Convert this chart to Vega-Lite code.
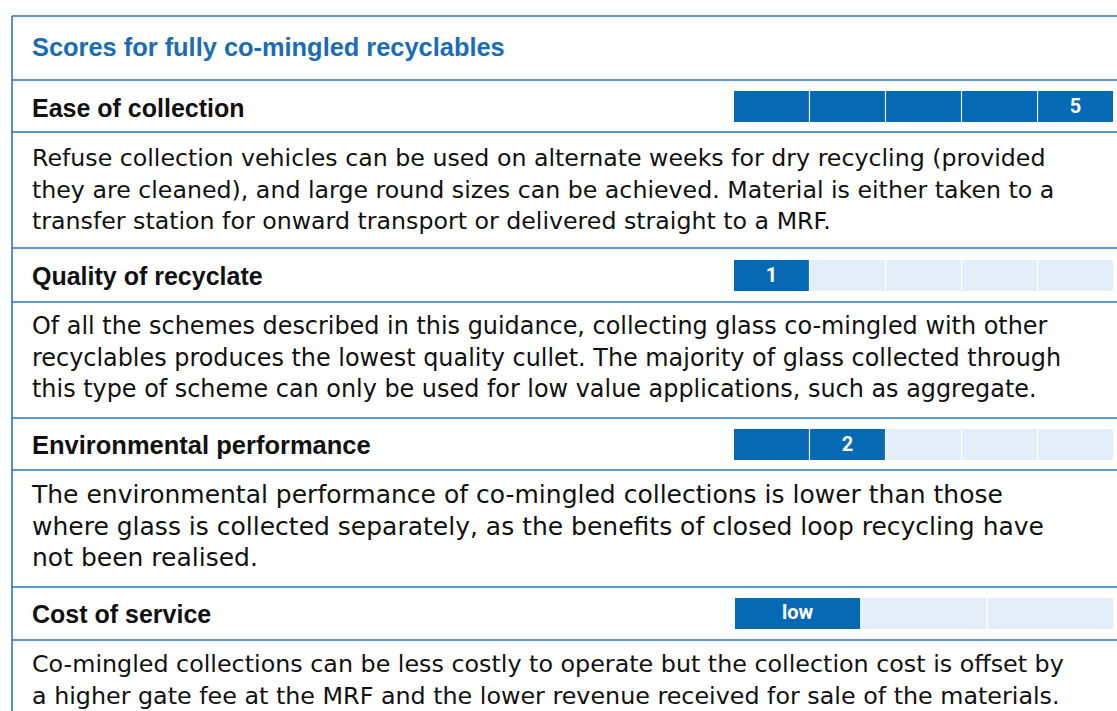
{
  "$schema": "https://vega.github.io/schema/vega-lite/v6.json",
  "background": "white",
  "padding": {"left": 11, "top": 15, "right": 0, "bottom": 0},
  "config": {"view": {"stroke": null}, "concat": {"spacing": 0}, "font": "DejaVu Sans"},
  "spacing": 0,
  "bounds": "flush",
  "datasets": {
    "criteria": [
      {"criterion": "Ease of collection", "note": "Refuse collection vehicles can be used on alternate weeks for dry recycling (provided\nthey are cleaned), and large round sizes can be achieved. Material is either taken to a\ntransfer station for onward transport or delivered straight to a MRF."},
      {"criterion": "Quality of recyclate", "note": "Of all the schemes described in this guidance, collecting glass co-mingled with other\nrecyclables produces the lowest quality cullet. The majority of glass collected through\nthis type of scheme can only be used for low value applications, such as aggregate."},
      {"criterion": "Environmental performance", "note": "The environmental performance of co-mingled collections is lower than those\nwhere glass is collected separately, as the benefits of closed loop recycling have\nnot been realised."},
      {"criterion": "Cost of service", "note": "Co-mingled collections can be less costly to operate but the collection cost is offset by\na higher gate fee at the MRF and the lower revenue received for sale of the materials."}
    ],
    "scores": [
      {"criterion": "Ease of collection", "segment": 1, "state": "filled", "label": ""},
      {"criterion": "Ease of collection", "segment": 2, "state": "filled", "label": ""},
      {"criterion": "Ease of collection", "segment": 3, "state": "filled", "label": ""},
      {"criterion": "Ease of collection", "segment": 4, "state": "filled", "label": ""},
      {"criterion": "Ease of collection", "segment": 5, "state": "filled", "label": "5"},
      {"criterion": "Quality of recyclate", "segment": 1, "state": "filled", "label": "1"},
      {"criterion": "Quality of recyclate", "segment": 2, "state": "empty", "label": ""},
      {"criterion": "Quality of recyclate", "segment": 3, "state": "empty", "label": ""},
      {"criterion": "Quality of recyclate", "segment": 4, "state": "empty", "label": ""},
      {"criterion": "Quality of recyclate", "segment": 5, "state": "empty", "label": ""},
      {"criterion": "Environmental performance", "segment": 1, "state": "filled", "label": ""},
      {"criterion": "Environmental performance", "segment": 2, "state": "filled", "label": "2"},
      {"criterion": "Environmental performance", "segment": 3, "state": "empty", "label": ""},
      {"criterion": "Environmental performance", "segment": 4, "state": "empty", "label": ""},
      {"criterion": "Environmental performance", "segment": 5, "state": "empty", "label": ""},
      {"criterion": "Cost of service", "segment": 1, "state": "filled", "label": "low"},
      {"criterion": "Cost of service", "segment": 2, "state": "empty", "label": ""},
      {"criterion": "Cost of service", "segment": 3, "state": "empty", "label": ""}
    ]
  },
  "vconcat": [
    {
      "width": 1106, "height": 64,
      "layer": [
        {"data": {"values": [{"edge": "top"}]}, "mark": {"type": "rule", "color": "#2a74b9", "strokeWidth": 1.6}, "encoding": {"x": {"value": 0}, "x2": {"value": "width"}, "y": {"value": 0}}},
        {"data": {"values": [{"edge": "left"}]}, "mark": {"type": "rule", "color": "#2a74b9", "strokeWidth": 1.6}, "encoding": {"x": {"value": 0}, "y": {"value": 0}, "y2": {"value": "height"}}},
        {"data": {"values": [{"title": "Scores for fully co-mingled recyclables"}]}, "mark": {"type": "text", "align": "left", "baseline": "alphabetic", "fontWeight": "bold", "fontSize": 25.4, "font": "Liberation Sans", "color": "#1a6db5"}, "encoding": {"x": {"value": 20}, "y": {"value": 40}, "text": {"field": "title"}}}
      ]
    },
    {
      "width": 1106, "height": 52,
      "layer": [
        {"data": {"values": [{"edge": "top"}]}, "mark": {"type": "rule", "color": "#2a74b9", "strokeWidth": 1.6}, "encoding": {"x": {"value": 0}, "x2": {"value": "width"}, "y": {"value": 0}}},
        {"data": {"values": [{"edge": "left"}]}, "mark": {"type": "rule", "color": "#2a74b9", "strokeWidth": 1.6}, "encoding": {"x": {"value": 0}, "y": {"value": 0}, "y2": {"value": "height"}}},
        {"data": {"name": "scores"}, "transform": [{"filter": "datum.criterion === 'Ease of collection'"}], "mark": {"type": "rect"}, "encoding": {"x": {"field": "segment", "type": "ordinal", "scale": {"range": [722, 1101], "paddingInner": 0.015, "paddingOuter": 0}, "axis": null}, "y": {"value": 11}, "y2": {"value": 42}, "color": {"field": "state", "type": "nominal", "scale": {"domain": ["filled", "empty"], "range": ["#0569b3", "#e4eef8"]}, "legend": null}}},
        {"data": {"name": "scores"}, "transform": [{"filter": "datum.criterion === 'Ease of collection'"}], "mark": {"type": "text", "align": "center", "baseline": "middle", "fontWeight": "bold", "fontSize": 20, "font": "Roboto", "color": "white"}, "encoding": {"x": {"field": "segment", "type": "ordinal"}, "y": {"value": 27}, "text": {"field": "label"}}},
        {"data": {"name": "criteria"}, "transform": [{"filter": "datum.criterion === 'Ease of collection'"}], "mark": {"type": "text", "align": "left", "baseline": "alphabetic", "fontWeight": "bold", "fontSize": 25, "font": "Liberation Sans", "color": "#111111"}, "encoding": {"x": {"value": 20}, "y": {"value": 37}, "text": {"field": "criterion"}}}
      ]
    },
    {
      "width": 1106, "height": 116,
      "layer": [
        {"data": {"values": [{"edge": "top"}]}, "mark": {"type": "rule", "color": "#2a74b9", "strokeWidth": 1.6}, "encoding": {"x": {"value": 0}, "x2": {"value": "width"}, "y": {"value": 0}}},
        {"data": {"values": [{"edge": "left"}]}, "mark": {"type": "rule", "color": "#2a74b9", "strokeWidth": 1.6}, "encoding": {"x": {"value": 0}, "y": {"value": 0}, "y2": {"value": "height"}}},
        {"data": {"name": "criteria"}, "transform": [{"filter": "datum.criterion === 'Ease of collection'"}], "mark": {"type": "text", "align": "left", "baseline": "alphabetic", "fontSize": 23.7, "lineHeight": 31.5, "lineBreak": "\n", "color": "#111111"}, "encoding": {"x": {"value": 20}, "y": {"value": 34}, "text": {"field": "note"}}}
      ]
    },
    {
      "width": 1106, "height": 54,
      "layer": [
        {"data": {"values": [{"edge": "top"}]}, "mark": {"type": "rule", "color": "#2a74b9", "strokeWidth": 1.6}, "encoding": {"x": {"value": 0}, "x2": {"value": "width"}, "y": {"value": 0}}},
        {"data": {"values": [{"edge": "left"}]}, "mark": {"type": "rule", "color": "#2a74b9", "strokeWidth": 1.6}, "encoding": {"x": {"value": 0}, "y": {"value": 0}, "y2": {"value": "height"}}},
        {"data": {"name": "scores"}, "transform": [{"filter": "datum.criterion === 'Quality of recyclate'"}], "mark": {"type": "rect"}, "encoding": {"x": {"field": "segment", "type": "ordinal", "scale": {"range": [722, 1101], "paddingInner": 0.015, "paddingOuter": 0}, "axis": null}, "y": {"value": 12}, "y2": {"value": 43}, "color": {"field": "state", "type": "nominal", "scale": {"domain": ["filled", "empty"], "range": ["#0569b3", "#e4eef8"]}, "legend": null}}},
        {"data": {"name": "scores"}, "transform": [{"filter": "datum.criterion === 'Quality of recyclate'"}], "mark": {"type": "text", "align": "center", "baseline": "middle", "fontWeight": "bold", "fontSize": 20, "font": "Roboto", "color": "white"}, "encoding": {"x": {"field": "segment", "type": "ordinal"}, "y": {"value": 28}, "text": {"field": "label"}}},
        {"data": {"name": "criteria"}, "transform": [{"filter": "datum.criterion === 'Quality of recyclate'"}], "mark": {"type": "text", "align": "left", "baseline": "alphabetic", "fontWeight": "bold", "fontSize": 25, "font": "Liberation Sans", "color": "#111111"}, "encoding": {"x": {"value": 20}, "y": {"value": 37}, "text": {"field": "criterion"}}}
      ]
    },
    {
      "width": 1106, "height": 116,
      "layer": [
        {"data": {"values": [{"edge": "top"}]}, "mark": {"type": "rule", "color": "#2a74b9", "strokeWidth": 1.6}, "encoding": {"x": {"value": 0}, "x2": {"value": "width"}, "y": {"value": 0}}},
        {"data": {"values": [{"edge": "left"}]}, "mark": {"type": "rule", "color": "#2a74b9", "strokeWidth": 1.6}, "encoding": {"x": {"value": 0}, "y": {"value": 0}, "y2": {"value": "height"}}},
        {"data": {"name": "criteria"}, "transform": [{"filter": "datum.criterion === 'Quality of recyclate'"}], "mark": {"type": "text", "align": "left", "baseline": "alphabetic", "fontSize": 23.9, "lineHeight": 31.5, "lineBreak": "\n", "color": "#111111"}, "encoding": {"x": {"value": 20}, "y": {"value": 32}, "text": {"field": "note"}}}
      ]
    },
    {
      "width": 1106, "height": 52,
      "layer": [
        {"data": {"values": [{"edge": "top"}]}, "mark": {"type": "rule", "color": "#2a74b9", "strokeWidth": 1.6}, "encoding": {"x": {"value": 0}, "x2": {"value": "width"}, "y": {"value": 0}}},
        {"data": {"values": [{"edge": "left"}]}, "mark": {"type": "rule", "color": "#2a74b9", "strokeWidth": 1.6}, "encoding": {"x": {"value": 0}, "y": {"value": 0}, "y2": {"value": "height"}}},
        {"data": {"name": "scores"}, "transform": [{"filter": "datum.criterion === 'Environmental performance'"}], "mark": {"type": "rect"}, "encoding": {"x": {"field": "segment", "type": "ordinal", "scale": {"range": [722, 1101], "paddingInner": 0.015, "paddingOuter": 0}, "axis": null}, "y": {"value": 11}, "y2": {"value": 42}, "color": {"field": "state", "type": "nominal", "scale": {"domain": ["filled", "empty"], "range": ["#0569b3", "#e4eef8"]}, "legend": null}}},
        {"data": {"name": "scores"}, "transform": [{"filter": "datum.criterion === 'Environmental performance'"}], "mark": {"type": "text", "align": "center", "baseline": "middle", "fontWeight": "bold", "fontSize": 20, "font": "Roboto", "color": "white"}, "encoding": {"x": {"field": "segment", "type": "ordinal"}, "y": {"value": 27}, "text": {"field": "label"}}},
        {"data": {"name": "criteria"}, "transform": [{"filter": "datum.criterion === 'Environmental performance'"}], "mark": {"type": "text", "align": "left", "baseline": "alphabetic", "fontWeight": "bold", "fontSize": 25.5, "font": "Liberation Sans", "color": "#111111"}, "encoding": {"x": {"value": 20}, "y": {"value": 36}, "text": {"field": "criterion"}}}
      ]
    },
    {
      "width": 1106, "height": 117,
      "layer": [
        {"data": {"values": [{"edge": "top"}]}, "mark": {"type": "rule", "color": "#2a74b9", "strokeWidth": 1.6}, "encoding": {"x": {"value": 0}, "x2": {"value": "width"}, "y": {"value": 0}}},
        {"data": {"values": [{"edge": "left"}]}, "mark": {"type": "rule", "color": "#2a74b9", "strokeWidth": 1.6}, "encoding": {"x": {"value": 0}, "y": {"value": 0}, "y2": {"value": "height"}}},
        {"data": {"name": "criteria"}, "transform": [{"filter": "datum.criterion === 'Environmental performance'"}], "mark": {"type": "text", "align": "left", "baseline": "alphabetic", "fontSize": 25, "lineHeight": 31.5, "lineBreak": "\n", "color": "#111111"}, "encoding": {"x": {"value": 20}, "y": {"value": 33}, "text": {"field": "note"}}}
      ]
    },
    {
      "width": 1106, "height": 53,
      "layer": [
        {"data": {"values": [{"edge": "top"}]}, "mark": {"type": "rule", "color": "#2a74b9", "strokeWidth": 1.6}, "encoding": {"x": {"value": 0}, "x2": {"value": "width"}, "y": {"value": 0}}},
        {"data": {"values": [{"edge": "left"}]}, "mark": {"type": "rule", "color": "#2a74b9", "strokeWidth": 1.6}, "encoding": {"x": {"value": 0}, "y": {"value": 0}, "y2": {"value": "height"}}},
        {"data": {"name": "scores"}, "transform": [{"filter": "datum.criterion === 'Cost of service'"}], "mark": {"type": "rect"}, "encoding": {"x": {"field": "segment", "type": "ordinal", "scale": {"range": [723, 1101], "paddingInner": 0.01, "paddingOuter": 0}, "axis": null}, "y": {"value": 11}, "y2": {"value": 42}, "color": {"field": "state", "type": "nominal", "scale": {"domain": ["filled", "empty"], "range": ["#0569b3", "#e4eef8"]}, "legend": null}}},
        {"data": {"name": "scores"}, "transform": [{"filter": "datum.criterion === 'Cost of service'"}], "mark": {"type": "text", "align": "center", "baseline": "middle", "fontWeight": "bold", "fontSize": 20, "font": "Roboto", "color": "white"}, "encoding": {"x": {"field": "segment", "type": "ordinal"}, "y": {"value": 26}, "text": {"field": "label"}}},
        {"data": {"name": "criteria"}, "transform": [{"filter": "datum.criterion === 'Cost of service'"}], "mark": {"type": "text", "align": "left", "baseline": "alphabetic", "fontWeight": "bold", "fontSize": 25, "font": "Liberation Sans", "color": "#111111"}, "encoding": {"x": {"value": 20}, "y": {"value": 36}, "text": {"field": "criterion"}}}
      ]
    },
    {
      "width": 1106, "height": 72,
      "layer": [
        {"data": {"values": [{"edge": "top"}]}, "mark": {"type": "rule", "color": "#2a74b9", "strokeWidth": 1.6}, "encoding": {"x": {"value": 0}, "x2": {"value": "width"}, "y": {"value": 0}}},
        {"data": {"values": [{"edge": "left"}]}, "mark": {"type": "rule", "color": "#2a74b9", "strokeWidth": 1.6}, "encoding": {"x": {"value": 0}, "y": {"value": 0}, "y2": {"value": "height"}}},
        {"data": {"name": "criteria"}, "transform": [{"filter": "datum.criterion === 'Cost of service'"}], "mark": {"type": "text", "align": "left", "baseline": "alphabetic", "fontSize": 23.8, "lineHeight": 31.5, "lineBreak": "\n", "color": "#111111"}, "encoding": {"x": {"value": 20}, "y": {"value": 32}, "text": {"field": "note"}}}
      ]
    }
  ]
}
